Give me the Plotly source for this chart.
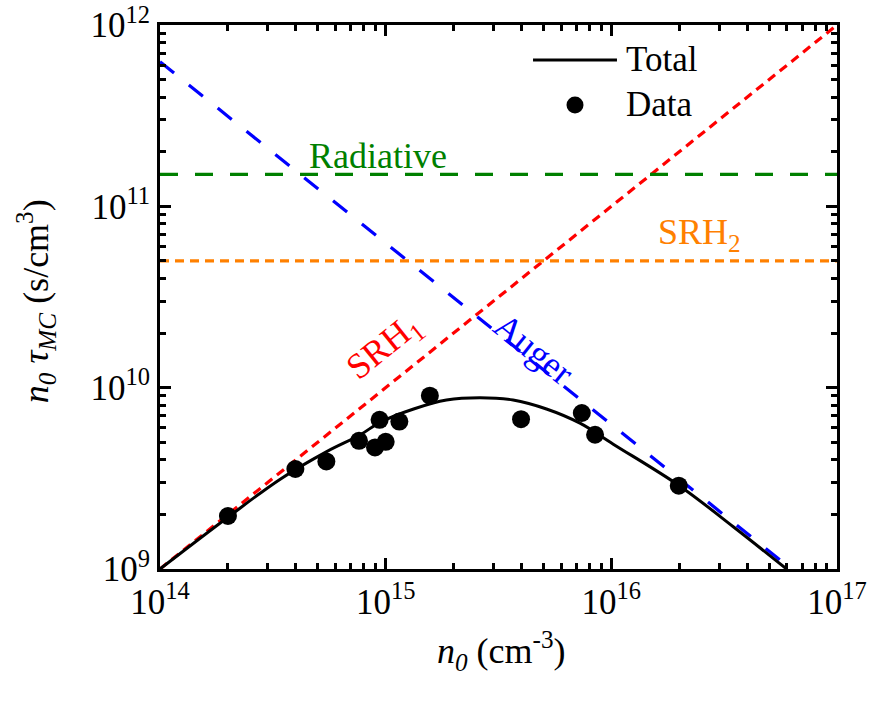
import plotly.graph_objects as go

# Measured lifetime product n0*tau_MC versus doping n0
data_n0 = [2.0e14, 3.98e14, 5.46e14, 7.62e14, 8.97e14, 9.4e14, 1.0e15,
           1.15e15, 1.57e15, 3.98e15, 7.4e15, 8.47e15, 1.99e16]
data_ntau = [1.96e9, 3.56e9, 3.92e9, 5.09e9, 4.68e9, 6.65e9, 5.03e9,
             6.5e9, 9.03e9, 6.7e9, 7.25e9, 5.5e9, 2.88e9]

# Total fitted curve (sampled)
total_n0 = [1.0e14, 2.0e14, 3.41e14, 5.48e14, 7.69e14, 9.44e14, 1.33e15,
            1.86e15, 2.62e15, 3.67e15, 5.16e15, 7.26e15, 1.02e16,
            2.0e16, 3.47e16, 5.98e16]
total_ntau = [1.0e9, 1.93e9, 3.13e9, 4.44e9, 5.48e9, 6.44e9, 7.63e9,
              8.55e9, 8.81e9, 8.55e9, 7.63e9, 6.37e9, 4.88e9,
              2.88e9, 1.71e9, 1.0e9]

# Component limits (end points of each straight line on log-log axes)
srh1_n0 = [1e14, 1e17]
srh1_ntau = [1e9, 1e12]
auger_n0 = [1e14, 1e17]
auger_ntau = [6.27e11, 6.27e8]
rad_n0 = [1e14, 1e17]
rad_ntau = [1.5e11, 1.5e11]
srh2_n0 = [1e14, 1e17]
srh2_ntau = [5e10, 5e10]

x_ticks = [1e14, 1e15, 1e16, 1e17]
x_ticktext = ["10<sup>14</sup>", "10<sup>15</sup>", "10<sup>16</sup>", "10<sup>17</sup>"]
y_ticks = [1e9, 1e10, 1e11, 1e12]
y_ticktext = ["10<sup>9</sup>", "10<sup>10</sup>", "10<sup>11</sup>", "10<sup>12</sup>"]

RED = "#FF0000"
BLUE = "#0000FF"
GREEN = "#008000"
ORANGE = "#FF8000"
FONT = "Liberation Serif, Times New Roman, Times, serif"


def minor_vals(lo, hi):
    vals = []
    for e in range(lo, hi):
        for m in range(2, 10):
            vals.append(m * 10 ** e)
    return vals


fig = go.Figure()
fig.add_trace(go.Scatter(x=srh1_n0, y=srh1_ntau, mode="lines",
                         line=dict(color=RED, width=3.2, dash="9px,6px")))
fig.add_trace(go.Scatter(x=auger_n0, y=auger_ntau, mode="lines",
                         line=dict(color=BLUE, width=3.2, dash="18px,19px")))
fig.add_trace(go.Scatter(x=rad_n0, y=rad_ntau, mode="lines",
                         line=dict(color=GREEN, width=3.2, dash="18px,17px")))
fig.add_trace(go.Scatter(x=srh2_n0, y=srh2_ntau, mode="lines",
                         line=dict(color=ORANGE, width=3.2, dash="9px,6px")))
fig.add_trace(go.Scatter(x=total_n0, y=total_ntau, mode="lines",
                         line=dict(color="black", width=3, shape="spline", smoothing=1.0)))
fig.add_trace(go.Scatter(x=data_n0, y=data_ntau, mode="markers",
                         marker=dict(color="black", size=18)))

axis_common = dict(
    type="log", showline=True, linewidth=3, linecolor="black", mirror="allticks",
    ticks="inside", ticklen=11, tickwidth=2.5, tickcolor="black",
    showgrid=False, zeroline=False, automargin=False,
    tickfont=dict(family=FONT, size=35, color="black"),
)

fig.update_xaxes(range=[14, 17], tickvals=x_ticks, ticktext=x_ticktext,
                 minor=dict(ticks="inside", ticklen=6, tickwidth=2.5, tickcolor="black",
                            tickvals=minor_vals(14, 17), showgrid=False),
                 **axis_common)
fig.update_yaxes(range=[9, 12], tickvals=y_ticks, ticktext=y_ticktext,
                 minor=dict(ticks="inside", ticklen=6, tickwidth=2.5, tickcolor="black",
                            tickvals=minor_vals(9, 12), showgrid=False),
                 **axis_common)

ann_font = dict(family=FONT, size=36)
annotations = [
    dict(text="Radiative", x=0.3227, y=0.759, font=dict(color=GREEN, **ann_font)),
    dict(text="SRH<sub>2</sub>", x=0.797, y=0.615, font=dict(color=ORANGE, **ann_font)),
    dict(text="SRH<sub>1</sub>", x=0.332, y=0.408, textangle=-38.8,
         font=dict(color=RED, **ann_font)),
    dict(text="Auger", x=0.552, y=0.405, textangle=38.8,
         font=dict(color=BLUE, **ann_font)),
    dict(text="<i>n</i><sub><i>0</i></sub> (cm<sup>-3</sup>)", x=0.505, y=-0.15,
         font=dict(color="black", **ann_font)),
    dict(text="<i>n</i><sub><i>0</i></sub> <i>τ</i><sub><i>MC</i></sub> (s/cm<sup>3</sup>)",
         x=-0.183, y=0.4926, textangle=-90, font=dict(color="black", **ann_font)),
    dict(text="Total", x=0.6854, y=0.9357, xanchor="left",
         font=dict(color="black", family=FONT, size=35)),
    dict(text="Data", x=0.6854, y=0.853, xanchor="left",
         font=dict(color="black", family=FONT, size=35)),
]
for a in annotations:
    a.setdefault("xanchor", "center")
    a.update(xref="paper", yref="paper", yanchor="middle", showarrow=False)

# Legend samples
shapes = [
    dict(type="line", xref="paper", yref="paper", x0=0.551, x1=0.675,
         y0=0.9357, y1=0.9357, line=dict(color="black", width=3)),
    dict(type="circle", xref="paper", yref="paper",
         x0=0.613 - 0.01256, x1=0.613 + 0.01256,
         y0=0.853 - 0.01563, y1=0.853 + 0.01563,
         fillcolor="black", line=dict(color="black", width=0)),
]

fig.update_layout(
    width=870, height=702,
    margin=dict(l=160, r=33, t=25, b=133, autoexpand=False),
    plot_bgcolor="white", paper_bgcolor="white",
    showlegend=False,
    annotations=annotations, shapes=shapes,
    font=dict(family=FONT, color="black"),
)

fig.write_html("out.html")
